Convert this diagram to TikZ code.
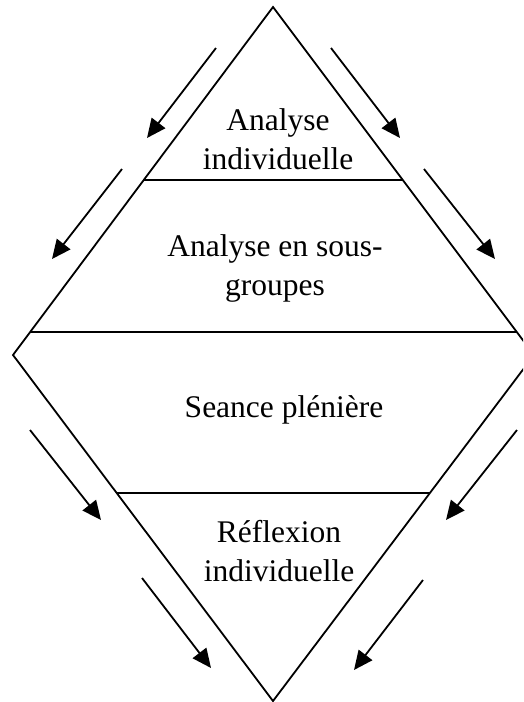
\documentclass[tikz,border=0pt]{standalone}
\usepackage{fontspec}
\setmainfont{Liberation Serif}
\usetikzlibrary{arrows.meta}
\begin{document}
\begin{tikzpicture}[x=1pt,y=-1pt,
  edge/.style={line width=1.8pt},
  flow/.style={line width=1.8pt,-{Triangle[length=19pt,width=17pt]}},
  lbl/.style={align=center,font=\fontsize{31.5}{39}\selectfont,inner sep=0pt}]
\useasboundingbox (0,0) rectangle (523,702);
\clip (0,0) rectangle (523,702);
\coordinate (T) at (273,7);
\coordinate (L) at (13,355);
\coordinate (R) at (534,355);
\coordinate (B) at (273,701);
\draw[edge,line join=miter] (T) -- (L) -- (B) -- (R) -- cycle;
\coordinate (h1l) at (143.7,180); \coordinate (h1r) at (402.7,180);
\coordinate (h2l) at (30.2,332);  \coordinate (h2r) at (516.8,332);
\coordinate (h3l) at (116.7,493); \coordinate (h3r) at (429.9,493);
\draw[edge] (h1l) -- (h1r);
\draw[edge] (h2l) -- (h2r);
\draw[edge] (h3l) -- (h3r);
\node[lbl] (n1) at (278,139) {Analyse\\individuelle};
\node[lbl] (n2) at (275,268) {Analyse en sous-\\groupes};
\node[lbl] (n3) at (284,410) {Seance plénière};
\node[lbl] (n4) at (279,551) {Réflexion\\individuelle};
\coordinate (a1s) at (216,48);  \coordinate (a1e) at (147,138);
\coordinate (a2s) at (122,169); \coordinate (a2e) at (52,259);
\coordinate (a3s) at (331,48);  \coordinate (a3e) at (400,138);
\coordinate (a4s) at (424,169); \coordinate (a4e) at (495,259);
\coordinate (a5s) at (30,430);  \coordinate (a5e) at (101,520);
\coordinate (a6s) at (142,578); \coordinate (a6e) at (211,668);
\coordinate (a7s) at (517,430); \coordinate (a7e) at (446,520);
\coordinate (a8s) at (423,580); \coordinate (a8e) at (354,670);
\foreach \i in {1,...,8} {\draw[flow] (a\i s) -- (a\i e);}
\end{tikzpicture}
\end{document}
